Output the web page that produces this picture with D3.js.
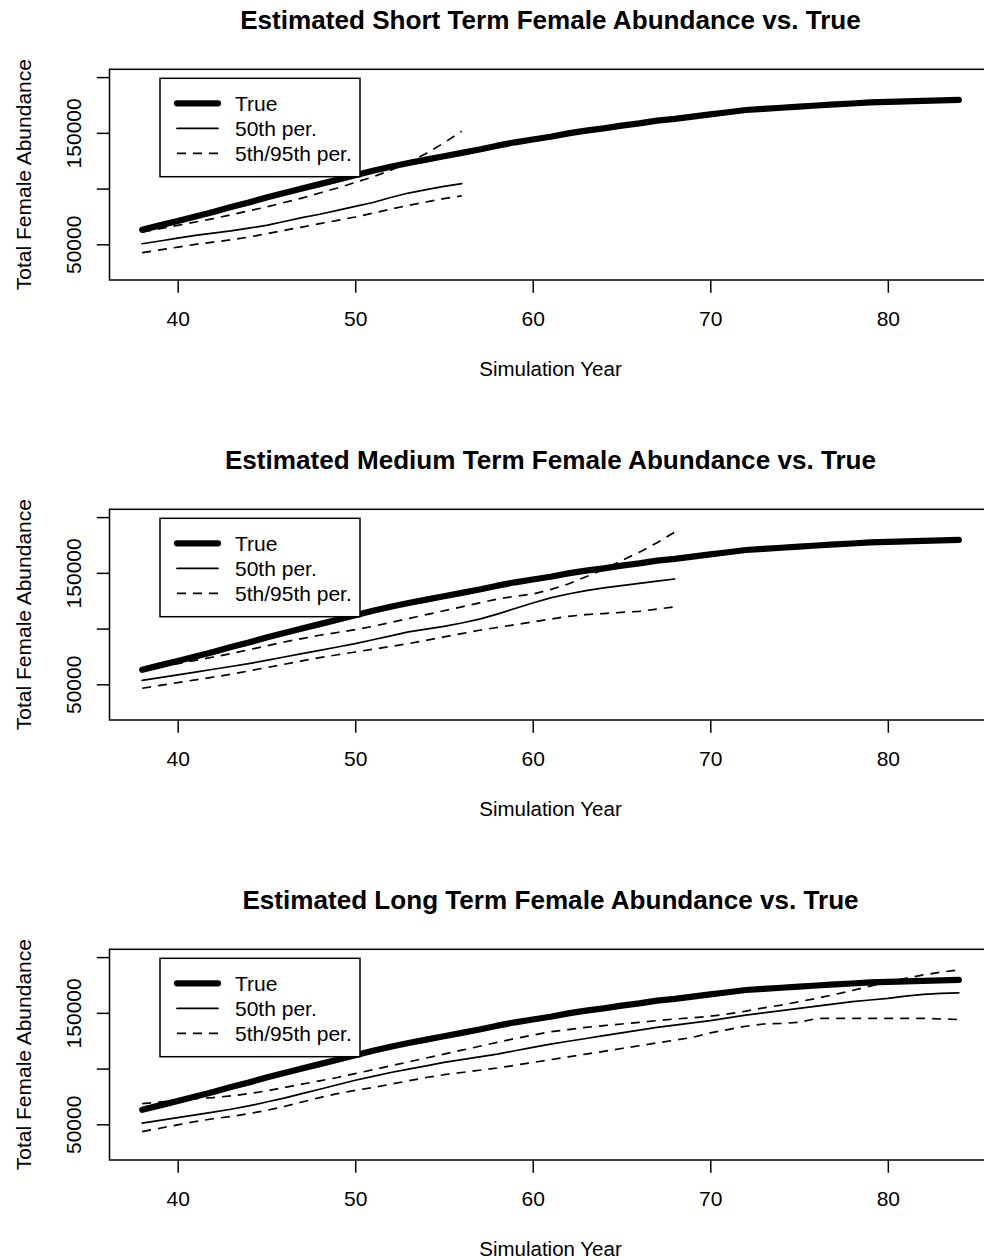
<!DOCTYPE html>
<html>
<head>
<meta charset="utf-8">
<script src="https://cdn.jsdelivr.net/npm/d3@7"></script>
<style>
  body { margin: 0; background: #fff; }
  svg { font-family: "Liberation Sans", Arial, Helvetica, sans-serif; }
</style>
</head>
<body>
<div id="chart"></div>
<script>
// years on the x axis
var years = [38, 39, 40, 41, 42, 43, 44, 45, 46, 47, 48, 49, 50, 51, 52, 53, 54, 55, 56, 57, 58, 59, 60,
    61, 62, 63, 64, 65, 66, 67, 68, 69, 70, 71, 72, 73, 74, 75, 76, 77, 78, 79, 80, 81, 82, 83, 84];

var trueVals = [63000, 67000, 71000, 75000, 79000, 83500, 87500, 92000, 96000, 100000, 104000, 108000,
    112000, 116000, 119500, 123000, 126000, 129000, 132000, 135000, 138500, 141500, 144000, 146500,
    149500, 152000, 154000, 156500, 158500, 161000, 162500, 164500, 166500, 168500, 170500, 171500,
    172500, 173500, 174500, 175500, 176300, 177300, 177800, 178300, 178700, 179100, 179500];

// short term (38-56)
var shortP50 = [50500, 53000, 55500, 58000, 60000, 62000, 64500, 67000, 70500, 74000, 77000, 80500,
    84000, 87500, 92000, 96000, 99000, 102000, 104500];
var shortP5 = [42500, 45000, 47500, 50000, 52000, 54000, 56500, 59500, 62500, 65500, 68500, 71500,
    74500, 78000, 81500, 85000, 88000, 91000, 93500];
var shortP95 = [61000, 64000, 67000, 70000, 73000, 76500, 80000, 83500, 87500, 91500, 96000, 100500,
    105500, 110500, 116500, 123500, 131500, 141000, 151500];

// medium term (38-68)
var medP50 = [53500, 56000, 58500, 61000, 63500, 66000, 68500, 71500, 74500, 77500, 80500, 83500,
    86500, 90000, 93500, 97000, 99500, 102000, 105000, 108500, 113000, 118000, 123000, 127500,
    131000, 134000, 136500, 138500, 140500, 142500, 144500];
var medP5 = [46500, 49000, 51500, 54000, 56500, 59000, 62000, 65000, 68000, 71000, 74000, 76500,
    79000, 81500, 84000, 86500, 89500, 92500, 95500, 98500, 101000, 103500, 106000, 108500,
    111000, 112500, 113500, 114500, 115500, 117500, 119500];
var medP95 = [62500, 65500, 68500, 71500, 74500, 77500, 81000, 84500, 88000, 91000, 94000, 96500,
    99000, 102000, 105500, 109000, 112500, 116000, 119500, 123000, 126500, 129000, 131000, 135000,
    140000, 146500, 153000, 161000, 168500, 177000, 186500];

// long term (38-84)
var longP50 = [51000, 53500, 56000, 58500, 61000, 63500, 66500, 70000, 73500, 77500, 81500, 85500,
    89500, 93000, 96500, 99500, 102500, 105500, 108000, 110500, 113000, 116000, 119000, 122000,
    124500, 127000, 129500, 132000, 134500, 137000, 139000, 141000, 143000, 145500, 148000, 150000,
    152000, 154000, 156000, 158000, 160000, 161500, 163000, 165000, 166500, 167500, 168000];
var longP5 = [43500, 46500, 49500, 52500, 55000, 57000, 59500, 62500, 66000, 70000, 74000, 77500,
    80500, 83000, 86000, 89000, 92000, 94500, 96500, 98500, 100500, 103000, 105500, 108000,
    110500, 113000, 115500, 118000, 120500, 123000, 125500, 128000, 132000, 135000, 138000, 140000,
    140500, 141500, 145000, 145000, 145000, 145000, 145000, 145000, 145000, 144500, 144000];
var longP95 = [68500, 70000, 71500, 73000, 74000, 75500, 77500, 80000, 83000, 86000, 89000, 92000,
    95500, 99000, 102500, 106000, 109500, 113000, 116500, 120000, 123500, 127000, 130000, 133000,
    135000, 137000, 138500, 140000, 141500, 143000, 144500, 145500, 147000, 149000, 151500, 154500,
    157000, 160000, 163000, 166500, 170000, 174000, 177500, 181000, 184000, 186500, 188500];

var titles = ["Estimated Short Term Female Abundance vs. True",
    "Estimated Medium Term Female Abundance vs. True",
    "Estimated Long Term Female Abundance vs. True"];
var xTicks = [40, 50, 60, 70, 80];
var yTicks = [50000, 100000, 150000, 200000];
var yLabelled = [50000, 150000];
var legendLabels = ["True", "50th per.", "5th/95th per."];

var panels = [
    {p50: shortP50, p5: shortP5, p95: shortP95},
    {p50: medP50, p5: medP5, p95: medP95},
    {p50: longP50, p5: longP5, p95: longP95}
];

var dim = {
    width: 984,
    height: 1260,
    panelH: 440,
    left: 109.5,
    right: 991.5,
    top: 69.3,
    bottom: 280,
    tick: 12.7
};

var svg = d3.select("#chart").append("svg")
    .attr("width", dim.width)
    .attr("height", dim.height);

var xScale = d3.scaleLinear()
    .domain([36.16, 85.84])
    .range([dim.left, dim.right]);

var yScale = d3.scaleLinear()
    .domain([18000, 207000])
    .range([dim.bottom, dim.top]);

svg.append("defs").append("clipPath").attr("id", "plotclip")
    .append("rect")
    .attr("x", dim.left).attr("y", dim.top)
    .attr("width", dim.right - dim.left).attr("height", dim.bottom - dim.top);

function toPoints(vals) {
    return vals.map((v, i) => ({x: years[i], y: v}));
}

var line = d3.line()
    .x(d => xScale(d.x))
    .y(d => yScale(d.y));

var thick = {w: 6.2, dash: null};
var solid = {w: 1.7, dash: null};
var dashed = {w: 1.7, dash: "9,7"};

panels.forEach(function(p, i) {
    var g = svg.append("g").attr("transform", `translate(0,${i * dim.panelH})`);

    // title
    g.append("text")
        .attr("x", (dim.left + dim.right) / 2)
        .attr("y", 29)
        .attr("text-anchor", "middle")
        .attr("font-weight", "bold")
        .attr("font-size", 26.1)
        .text(titles[i]);

    // lines
    var plot = g.append("g").attr("clip-path", "url(#plotclip)");
    var series = [
        {vals: trueVals, st: thick},
        {vals: p.p50, st: solid},
        {vals: p.p5, st: dashed},
        {vals: p.p95, st: dashed}
    ];
    series.forEach(function(s) {
        plot.append("path")
            .datum(toPoints(s.vals))
            .attr("d", line)
            .attr("fill", "none")
            .attr("stroke", "#000")
            .attr("stroke-width", s.st.w)
            .attr("stroke-linecap", s.st.dash ? "butt" : "round")
            .attr("stroke-linejoin", "round")
            .attr("stroke-dasharray", s.st.dash);
    });

    // axes
    var xAxis = d3.axisBottom(xScale).tickValues(xTicks).tickSize(dim.tick).tickFormat(d3.format("d"));
    var xg = g.append("g").attr("transform", `translate(0,${dim.bottom})`).call(xAxis);
    xg.select(".domain").remove();
    xg.selectAll("line").attr("stroke-width", 1.5);
    xg.selectAll("text")
        .attr("y", 46).attr("dy", 0)
        .attr("font-size", 21)
        .attr("fill", "#000");

    var yAxis = d3.axisLeft(yScale).tickValues(yTicks).tickSize(dim.tick)
        .tickFormat(d => yLabelled.includes(d) ? d3.format("d")(d) : "");
    var yg = g.append("g").attr("transform", `translate(${dim.left},0)`).call(yAxis);
    yg.select(".domain").remove();
    yg.selectAll("line").attr("stroke-width", 1.5);
    yg.selectAll("text")
        .attr("transform", "rotate(-90)")
        .attr("x", 0).attr("y", -28.5).attr("dy", 0)
        .attr("text-anchor", "middle")
        .attr("font-size", 21)
        .attr("fill", "#000");
    xg.attr("font-family", null);
    yg.attr("font-family", null);

    // box
    g.append("rect")
        .attr("x", dim.left).attr("y", dim.top)
        .attr("width", dim.right - dim.left).attr("height", dim.bottom - dim.top)
        .attr("fill", "none").attr("stroke", "#000").attr("stroke-width", 1.5);

    // axis titles
    g.append("text")
        .attr("x", (dim.left + dim.right) / 2)
        .attr("y", 375.5)
        .attr("text-anchor", "middle")
        .attr("font-size", 20.5)
        .text("Simulation Year");
    g.append("text")
        .attr("transform", `translate(31,${(dim.top + dim.bottom) / 2}) rotate(-90)`)
        .attr("text-anchor", "middle")
        .attr("font-size", 21)
        .text("Total Female Abundance");

    // legend
    var lg = g.append("g");
    lg.append("rect")
        .attr("x", 160).attr("y", 78.3)
        .attr("width", 200).attr("height", 98.4)
        .attr("fill", "#fff").attr("stroke", "#000").attr("stroke-width", 1.5);
    [thick, solid, dashed].forEach(function(st, k) {
        var yy = 103.3 + k * 25;
        lg.append("line")
            .attr("x1", 177).attr("x2", 218)
            .attr("y1", yy).attr("y2", yy)
            .attr("stroke", "#000")
            .attr("stroke-width", st.w)
            .attr("stroke-linecap", st.dash ? "butt" : "round")
            .attr("stroke-dasharray", st.dash);
        lg.append("text")
            .attr("x", 235).attr("y", yy + 7.5)
            .attr("font-size", 21)
            .text(legendLabels[k]);
    });
});
</script>
</body>
</html>
